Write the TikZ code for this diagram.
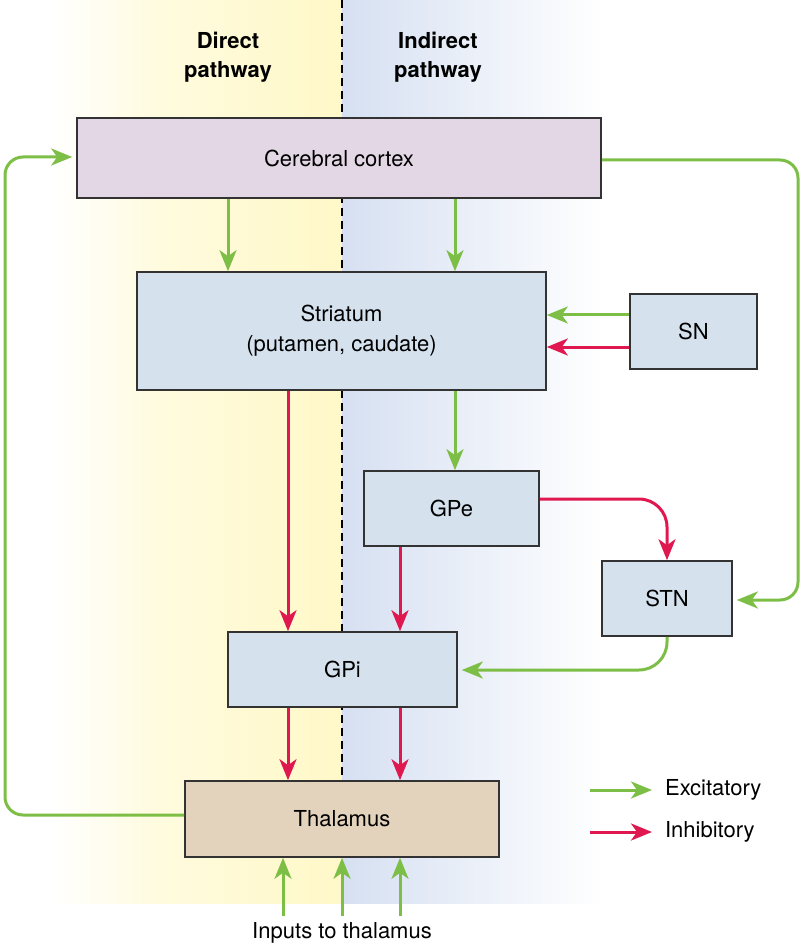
\documentclass[tikz,border=0pt]{standalone}
\usepackage{fontspec}
\setmainfont{TeX Gyre Heros}
\usetikzlibrary{arrows.meta}

\definecolor{exgreen}{RGB}{125,190,70}
\definecolor{inred}{RGB}{224,24,80}
\definecolor{cortexfill}{RGB}{227,214,229}
\definecolor{nucfill}{RGB}{213,226,238}
\definecolor{thalfill}{RGB}{227,211,188}
\definecolor{yellowbg}{RGB}{255,248,200}
\definecolor{bluebg}{RGB}{214,224,242}

\begin{document}
\begin{tikzpicture}[x=0.5pt,y=-0.5pt]
    \tikzstyle{every node}=[font=\fontsize{11}{15}\selectfont]
    \tikzstyle{region}=[draw=black!80, line width=0.8pt, inner sep=0pt, align=center, fill=nucfill]
    \tikzstyle{exc}=[draw=exgreen, line width=1.5pt, -{Stealth[length=10.5pt,width=8.5pt,inset=3pt]}]
    \tikzstyle{inh}=[draw=inred, line width=1.5pt, -{Stealth[length=10.5pt,width=8.5pt,inset=3pt]}]

    \useasboundingbox (0,0) rectangle (801,946);

    % pathway bands
    \shade[left color=white, right color=yellowbg!60] (50,0) rectangle (160,903);
    \shade[left color=yellowbg!60, right color=yellowbg] (160,0) rectangle (342,903);
    \shade[left color=bluebg, right color=white] (342,0) rectangle (605,903);
    \draw[black, line width=0.7pt, dash pattern=on 4pt off 2.5pt] (342,0) -- (342,781);

    \node[font=\fontsize{11}{14.5}\selectfont\bfseries, align=center] (direct) at (228,57) {Direct\\pathway};
    \node[font=\fontsize{11}{14.5}\selectfont\bfseries, align=center] (indirect) at (438,57) {Indirect\\pathway};

    % regions
    \node[region, fill=cortexfill, minimum width=262pt, minimum height=40pt] (cortex) at (339,158) {Cerebral cortex};
    \node[region, minimum width=204.5pt, minimum height=59pt] (striatum) at (341.5,331) {Striatum\\(putamen, caudate)};
    \node[region, minimum width=63.5pt, minimum height=37.5pt] (sn) at (693.5,331.5) {SN};
    \node[region, minimum width=87.5pt, minimum height=37.5pt] (gpe) at (451.5,508.5) {GPe};
    \node[region, minimum width=65pt, minimum height=37.5pt] (stn) at (667,598.5) {STN};
    \node[region, minimum width=114.5pt, minimum height=37.5pt] (gpi) at (342.5,669.5) {GPi};
    \node[region, fill=thalfill, minimum width=157pt, minimum height=38pt] (thalamus) at (342,819) {Thalamus};
    \node (inputs) at (342,933) {Inputs to thalamus};

    % connections
    \draw[exc] (228,0 |- cortex.south) -- (228,0 |- striatum.north);
    \draw[exc] (455,0 |- cortex.south) -- (455,0 |- striatum.north);
    \draw[exc] (sn.west |- 0,315) -- (striatum.east |- 0,315);
    \draw[inh] (sn.west |- 0,347) -- (striatum.east |- 0,347);
    \draw[inh] (288,0 |- striatum.south) -- (288,0 |- gpi.north);
    \draw[exc] (455,0 |- striatum.south) -- (455,0 |- gpe.north);
    \draw[inh] (400,0 |- gpe.south) -- (400,0 |- gpi.north);
    \draw[inh, rounded corners=14pt] (gpe.east |- 0,499) -- (stn.north |- 0,499) -- (stn.north);
    \draw[exc, rounded corners=9pt] (cortex.east |- 0,160) -- (798,160) -- (798,600) -- ([xshift=2pt]stn.east |- 0,600);
    \draw[exc, rounded corners=14pt] (stn.south) -- (stn.south |- 0,670) -- ([xshift=2pt]gpi.east |- 0,670);
    \draw[inh] (288,0 |- gpi.south) -- (288,0 |- thalamus.north);
    \draw[inh] (400,0 |- gpi.south) -- (400,0 |- thalamus.north);
    \draw[exc, rounded corners=9pt] (thalamus.west |- 0,815) -- (5,815) -- (5,157) -- ([xshift=-2pt]cortex.west |- 0,157);
    \foreach \x in {283,342,400}
        \draw[exc] (\x,0 |- inputs.north) -- (\x,0 |- thalamus.south);

    % legend
    \node[anchor=west] (exclab) at (658,790) {Excitatory};
    \node[anchor=west] (inhlab) at (658,832) {Inhibitory};
    \draw[exc, shorten >=3pt] (590,0 |- exclab.west) -- (exclab.west);
    \draw[inh, shorten >=3pt] (590,0 |- inhlab.west) -- (inhlab.west);
\end{tikzpicture}
\end{document}
